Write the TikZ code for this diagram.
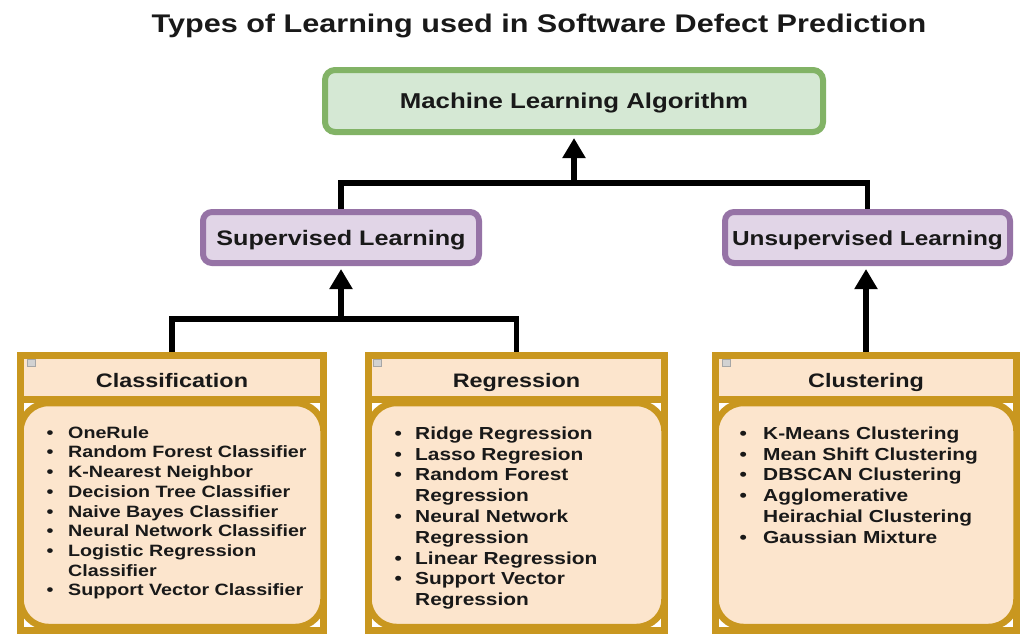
\documentclass[tikz,border=0pt]{standalone}
\usepackage{fontspec}
\setmainfont{Liberation Sans}[FakeStretch=1.2]
\usetikzlibrary{arrows.meta,backgrounds}
\definecolor{gold}{HTML}{C9971F}
\definecolor{peach}{HTML}{FCE5CD}
\definecolor{mlfill}{HTML}{D5E8D4}
\definecolor{mlline}{HTML}{82B366}
\definecolor{sfill}{HTML}{E1D5E7}
\definecolor{sline}{HTML}{9673A6}
\newlength\bulind
\newcommand\itm[1]{\makebox[\bulind][l]{\textbullet}#1}
\newcommand\cnt[1]{\hspace*{\bulind}#1}
\begin{document}
\begin{tikzpicture}[x=1pt,y=-1pt,
  txt/.style={text=black!90},
  mlbox/.style={txt,draw=mlline, fill=mlfill, line width=6pt, rounded corners=10pt, minimum width=498pt, minimum height=62pt, inner sep=0pt, text height=15.5pt, text depth=0pt, font=\fontsize{21.5}{24}\selectfont\bfseries},
  lbox/.style={txt,draw=sline, fill=sfill, line width=6pt, rounded corners=9pt, minimum height=51pt, inner sep=0pt, text height=15pt, text depth=0pt, font=\fontsize{21}{24}\selectfont\bfseries},
  cont/.style={draw=gold, fill=white, line width=7pt, minimum height=274.5pt, inner sep=0pt},
  chead/.style={txt,draw=gold, fill=peach, line width=7pt, minimum height=43.5pt, inner sep=0pt, text height=20.5pt, text depth=0pt, font=\fontsize{19.5}{22}\selectfont\bfseries},
  cbody/.style={draw=gold, fill=peach, line width=6.5pt, rounded corners=28pt, minimum height=224pt, inner sep=0pt},
  icon/.style={draw=gray!70, fill=gray!35, line width=0.6pt, minimum width=8pt, minimum height=7pt, inner sep=0pt},
  blist/.style={txt, align=left, inner sep=0pt, anchor=north west},
  conn/.style={line width=5.5pt, line join=miter},
  arr/.style={conn, -{Triangle[length=20pt,width=22pt]}, shorten >=3pt}
]
\useasboundingbox (0,0) rectangle (1024,633);

\node[txt, font=\fontsize{25.5}{30}\selectfont\bfseries, anchor=base] (title) at (539,32) {Types of Learning used in Software Defect Prediction};

\node[mlbox] (ml) at (574,101) {Machine Learning Algorithm};
\node[lbox, minimum width=276pt] (sup) at (341,237.5) {Supervised Learning};
\node[lbox, minimum width=285pt, font=\fontsize{20.3}{24}\selectfont\bfseries] (uns) at (867.5,237.5) {Unsupervised Learning};

% Classification container
\node[cont, minimum width=303pt] (cls) at (172,492.75) {};
\node[chead, minimum width=303pt] (clsh) at (172,377.25) {Classification};
\node[cbody, minimum width=303pt] (clsb) at (172,515) {};
\node[icon] (clsi) at (31,363) {};
\node[blist, font=\fontsize{16.4}{19.7}\selectfont\bfseries\setlength\bulind{21.5pt}] (clsl) at (46.5,425) {\rule{0pt}{13pt}\itm{OneRule}\\
\itm{Random Forest Classifier}\\
\itm{K-Nearest Neighbor}\\
\itm{Decision Tree Classifier}\\
\itm{Naive Bayes Classifier}\\
\itm{Neural Network Classifier}\\
\itm{Logistic Regression}\\
\cnt{Classifier}\\
\itm{Support Vector Classifier}};

% Regression container
\node[cont, minimum width=296pt] (reg) at (516.5,492.75) {};
\node[chead, minimum width=296pt] (regh) at (516.5,377.25) {Regression};
\node[cbody, minimum width=296pt] (regb) at (516.5,515) {};
\node[icon] (regi) at (377,363) {};
\node[blist, font=\fontsize{17.4}{20.8}\selectfont\bfseries\setlength\bulind{20.5pt}] (regl) at (394.5,426) {\rule{0pt}{13pt}\itm{Ridge Regression}\\
\itm{Lasso Regresion}\\
\itm{Random Forest}\\
\cnt{Regression}\\
\itm{Neural Network}\\
\cnt{Regression}\\
\itm{Linear Regression}\\
\itm{Support Vector}\\
\cnt{Regression}};

% Clustering container
\node[cont, minimum width=301pt] (clu) at (866,492.75) {};
\node[chead, minimum width=301pt] (cluh) at (866,377.25) {Clustering};
\node[cbody, minimum width=301pt] (club) at (866,515) {};
\node[icon] (clui) at (726,363) {};
\node[blist, font=\fontsize{17.4}{20.8}\selectfont\bfseries\setlength\bulind{23.5pt}] (clul) at (739.5,426) {\rule{0pt}{13pt}\itm{K-Means Clustering}\\
\itm{Mean Shift Clustering}\\
\itm{DBSCAN Clustering}\\
\itm{Agglomerative}\\
\cnt{Heirachial Clustering}\\
\itm{Gaussian Mixture}};

\coordinate (j1) at (574,183);
\coordinate (j2) at (341,319);
\begin{scope}[on background layer]
\fill[white] (0,0) rectangle (1024,633);
\draw[conn] (uns.north) |- (j1);
\draw[arr] (sup.north) |- (j1) -- (ml.south);
\draw[conn] (reg.north) |- (j2);
\draw[arr] (cls.north) |- (j2) -- (sup.south);
\draw[arr] (clu.north) -- (clu.north |- uns.south);
\end{scope}
\end{tikzpicture}
\end{document}
